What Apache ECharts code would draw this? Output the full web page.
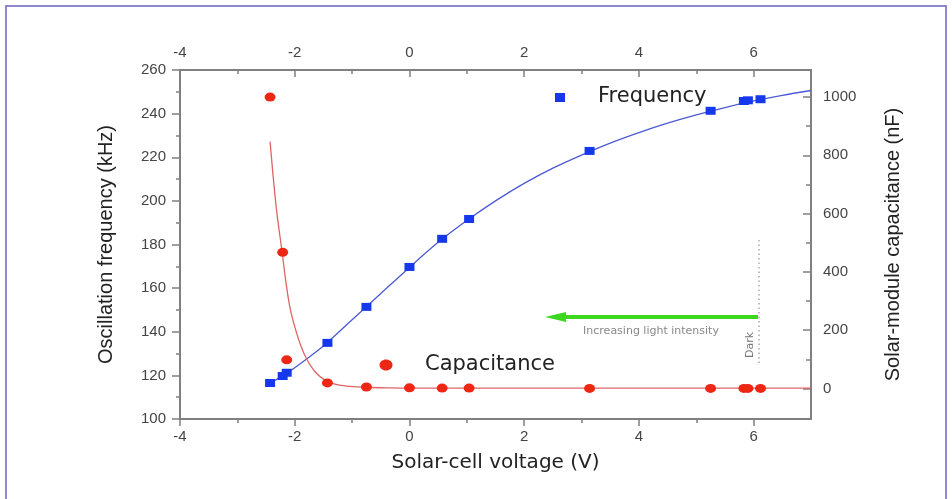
<!DOCTYPE html>
<html>
<head>
<meta charset="utf-8">
<script src="https://cdn.jsdelivr.net/npm/echarts@6/dist/echarts.min.js"></script>
<style>
  html, body { margin: 0; padding: 0; background: #fff; }
  #chart { width: 952px; height: 499px; }
</style>
</head>
<body>
<div id="chart"></div>
<script>
// measured points (same voltages for both quantities)
const voltage = [-2.43, -2.21, -2.14, -1.43, -0.75, 0, 0.57, 1.04, 3.14, 5.25, 5.83, 5.90, 6.12];
const frequency = [116.5, 119.7, 121.2, 134.9, 151.4, 169.7, 182.6, 191.7, 222.9, 241.3, 245.8, 246.1, 246.6];
const capacitance = [1000, 467, 98, 19, 5, 2, 1, 1, 0, 0, 0, 0, 0];

// fitted curves
const freqFitV = [-2.43, -2.2, -2.0, -1.5, -1.0, -0.5, 0, 0.5, 1.0, 1.5, 2.0, 2.5, 3.0, 3.5, 4.0, 4.5, 5.0, 5.5, 6.0, 6.5, 7.0];
const freqFit = [116.5, 119.9, 123.5, 133.5, 145.5, 157.5, 169.5, 181.0, 191.0, 200.0, 208.0, 215.0, 221.0, 226.5, 231.3, 235.6, 239.4, 242.8, 245.8, 248.4, 250.6];
const capFitV = [-2.43, -2.37, -2.31, -2.22, -2.15, -2.08, -2.0, -1.9, -1.79, -1.65, -1.5, -1.3, -1.1, -0.8, -0.4, 0, 7];
const capFit = [847, 715, 601, 468, 360, 275, 212, 150, 100, 58, 32, 15, 8, 4, 2, 1, 1];

// tick labels
const xMajor = [-4, -2, 0, 2, 4, 6];
const xMinor = [-3, -1, 1, 3, 5];
const capMajor = [0, 200, 400, 600, 800, 1000];
const capMinor = [100, 300, 500, 700, 900];

const pairs = (xs, ys) => xs.map((x, i) => [x, ys[i]]);

const axisGray = '#808080';
const labelFont = { color: '#444', fontSize: 15, fontFamily: 'Liberation Sans, Arial, sans-serif', formatter: v => String(v) };

const chart = echarts.init(document.getElementById('chart'));

function xAx(pos, inside, ticks, len, withLabels) {
  return {
    type: 'value', position: pos, min: -4, max: 7,
    axisLine: { show: withLabels, onZero: false, lineStyle: { color: axisGray, width: 2 } },
    axisTick: { show: true, inside: inside, length: len, customValues: ticks, lineStyle: { color: axisGray, width: 1.5 } },
    axisLabel: withLabels ? Object.assign({ customValues: xMajor, margin: 10 }, labelFont) : { show: false },
    splitLine: { show: false }
  };
}

function capAx(ticks, len, withLabels) {
  return {
    type: 'value', position: 'right', min: -105, max: 1093,
    axisLine: { show: withLabels, onZero: false, lineStyle: { color: axisGray, width: 2 } },
    axisTick: { show: true, inside: true, length: len, customValues: ticks, lineStyle: { color: axisGray, width: 1.5 } },
    axisLabel: withLabels ? Object.assign({ margin: 12, customValues: capMajor }, labelFont) : { show: false },
    splitLine: { show: false }
  };
}

const option = {
  animation: false,
  backgroundColor: '#fff',
  grid: { left: 180, right: 141, top: 70, bottom: 80 },
  xAxis: [
    Object.assign(xAx('bottom', false, xMajor, 7, true), {
      name: 'Solar-cell voltage (V)', nameLocation: 'middle', nameGap: 34,
      nameTextStyle: { color: '#222', fontSize: 20, fontFamily: 'DejaVu Sans, sans-serif' }
    }),
    xAx('top', true, xMajor, 7, true),
    xAx('bottom', false, xMinor, 4, false),
    xAx('top', true, xMinor, 4, false)
  ],
  yAxis: [
    {
      type: 'value', position: 'left', min: 100, max: 260, interval: 20,
      name: 'Oscillation frequency (kHz)', nameLocation: 'middle', nameGap: 64, nameRotate: 90,
      nameTextStyle: { color: '#222', fontSize: 20, fontFamily: 'Liberation Sans, Arial, sans-serif' },
      axisLine: { show: true, onZero: false, lineStyle: { color: axisGray, width: 2 } },
      axisTick: { show: true, inside: false, length: 8, lineStyle: { color: axisGray, width: 1.5 } },
      minorTick: { show: true, splitNumber: 2, length: 4, lineStyle: { color: axisGray, width: 1.5 } },
      axisLabel: Object.assign({ margin: 14 }, labelFont),
      splitLine: { show: false }
    },
    Object.assign(capAx(capMajor, 8, true), {
      name: 'Solar-module capacitance (nF)', nameLocation: 'middle', nameGap: 72, nameRotate: 90,
      nameTextStyle: { color: '#222', fontSize: 20, fontFamily: 'Liberation Sans, Arial, sans-serif' }
    }),
    capAx(capMinor, 5, false)
  ],
  series: [
    {
      name: 'Frequency fit', type: 'line', xAxisIndex: 0, yAxisIndex: 0,
      data: pairs(freqFitV, freqFit), smooth: 0.3, showSymbol: false,
      lineStyle: { color: '#4c5ad6', width: 1.3 }, z: 2
    },
    {
      name: 'Capacitance fit', type: 'line', xAxisIndex: 0, yAxisIndex: 1,
      data: pairs(capFitV, capFit), smooth: 0.4, showSymbol: false,
      lineStyle: { color: '#e06464', width: 1.3 }, z: 2
    },
    {
      name: 'Frequency', type: 'scatter', xAxisIndex: 0, yAxisIndex: 0,
      data: pairs(voltage, frequency), symbol: 'rect', symbolSize: [10, 8],
      itemStyle: { color: '#1638ec', opacity: 1 }, z: 3
    },
    {
      name: 'Capacitance', type: 'scatter', xAxisIndex: 0, yAxisIndex: 1,
      data: pairs(voltage, capacitance), symbol: 'circle', symbolSize: [11, 9],
      itemStyle: { color: '#ee2614', opacity: 1 }, z: 3
    }
  ],
  graphic: [
    // outer frame
    { type: 'rect', shape: { x: 6, y: 6, width: 940, height: 510 }, style: { fill: null, stroke: '#8f88cf', lineWidth: 2 }, silent: true },
    // legend-like labels
    { type: 'rect', shape: { x: 555, y: 93, width: 10, height: 9 }, style: { fill: '#1638ec' } },
    { type: 'text', x: 598, y: 97, style: { text: 'Frequency', fill: '#222', font: '21px DejaVu Sans, sans-serif', verticalAlign: 'middle' } },
    { type: 'ellipse', shape: { cx: 386, cy: 365, rx: 6.5, ry: 5.5 }, style: { fill: '#ee2614' } },
    { type: 'text', x: 425, y: 365, style: { text: 'Capacitance', fill: '#222', font: '21px DejaVu Sans, sans-serif', verticalAlign: 'middle' } },
    // dark marker and arrow
    { type: 'line', shape: { x1: 759, y1: 240, x2: 759, y2: 366 }, style: { stroke: '#aaa', lineWidth: 1.5, lineDash: [1.5, 3] } },
    { type: 'text', x: 750, y: 345, rotation: Math.PI / 2, style: { text: 'Dark', fill: '#777', font: '11px DejaVu Sans, sans-serif', align: 'center', verticalAlign: 'middle' } },
    { type: 'line', shape: { x1: 758, y1: 317, x2: 560, y2: 317 }, style: { stroke: '#3bd81e', lineWidth: 4 } },
    { type: 'polygon', shape: { points: [[545, 317], [566, 312], [566, 322]] }, style: { fill: '#3bd81e' } },
    { type: 'text', x: 651, y: 331, style: { text: 'Increasing light intensity', fill: '#888', font: '11px DejaVu Sans, sans-serif', align: 'center', verticalAlign: 'middle' } }
  ]
};

chart.setOption(option);
</script>
</body>
</html>
